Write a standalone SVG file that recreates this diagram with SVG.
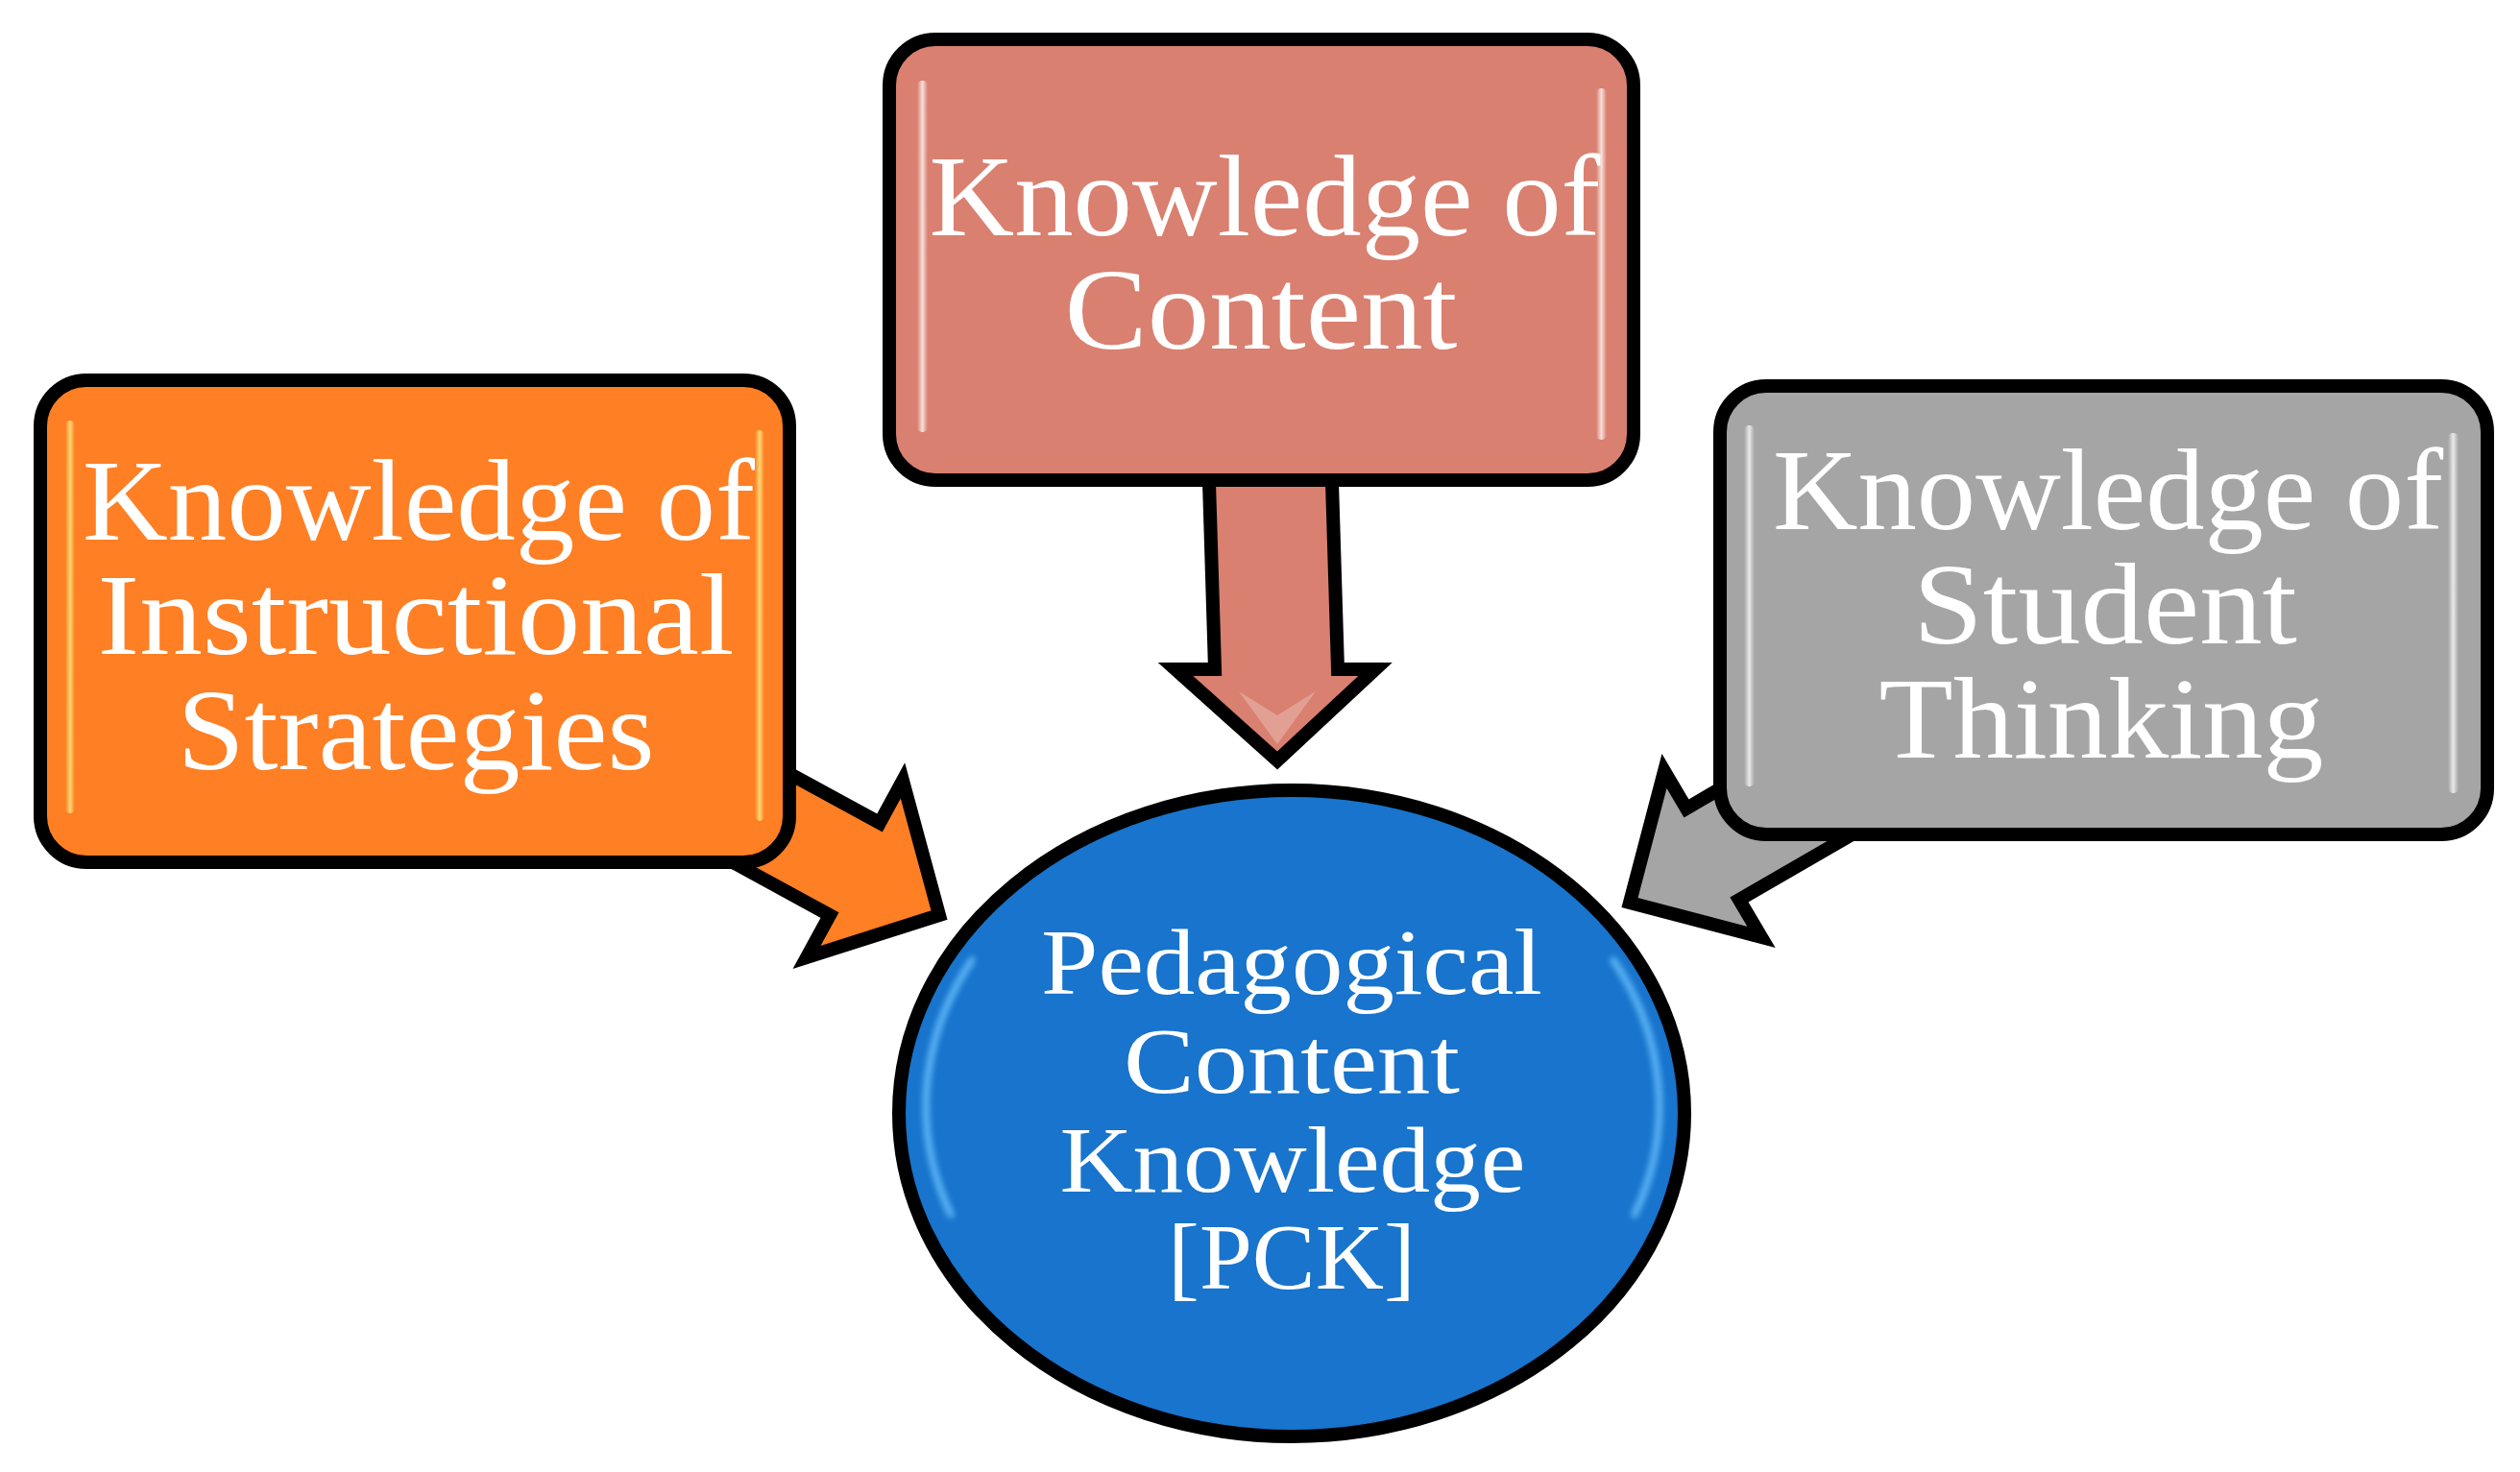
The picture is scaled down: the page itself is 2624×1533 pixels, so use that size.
<svg xmlns="http://www.w3.org/2000/svg" width="2624" height="1533" viewBox="0 0 2624 1533">
<defs>
<style>
.ol{stroke:#000;stroke-width:14;stroke-linejoin:round}
.arr{stroke:#000;stroke-width:14;stroke-linejoin:miter;stroke-miterlimit:10}
.t{font-family:"Liberation Serif","Times New Roman",serif;fill:#fff;text-anchor:middle}
.tb{font-size:121px}
.te{font-size:98px}
</style>
<linearGradient id="strip" x1="0" y1="0" x2="1" y2="0">
<stop offset="0" stop-color="#fff" stop-opacity="0"/>
<stop offset="0.5" stop-color="#fff" stop-opacity="0.75"/>
<stop offset="1" stop-color="#fff" stop-opacity="0"/>
</linearGradient>
<linearGradient id="stripY" x1="0" y1="0" x2="1" y2="0">
<stop offset="0" stop-color="#ffe27a" stop-opacity="0"/>
<stop offset="0.5" stop-color="#ffe27a" stop-opacity="0.9"/>
<stop offset="1" stop-color="#ffe27a" stop-opacity="0"/>
</linearGradient>
<filter id="blur" x="-20%" y="-20%" width="140%" height="140%"><feGaussianBlur stdDeviation="3"/></filter>
</defs>
<rect width="2624" height="1533" fill="#fff"/>

<g id="connectors">
<polygon class="arr" fill="#FE7F24" points="688,857 864,953 840,997 978,953 940,813 916,857 740,761"/>
<polygon class="arr" fill="#D98070" points="1258,470 1265,697 1224,697 1330,792 1432,697 1393,697 1386,470"/>
<polygon class="arr" fill="#A5A5A5" points="2027,812 1811,937 1834,976 1697,940 1733,803 1756,842 1971,716"/>
<polygon fill="#fff" opacity="0.25" points="1290,720 1330,775 1370,720 1330,745"/>
</g>

<g id="node-instructional">
<rect class="ol" x="42" y="396" width="780" height="502" rx="48" fill="#FE7F24"/>
<rect x="68" y="438" width="10" height="409" rx="5" fill="url(#stripY)"/>
<rect x="786" y="448" width="10" height="407" rx="5" fill="url(#stripY)"/>
<text class="t tb" x="436" y="562" textLength="700" lengthAdjust="spacingAndGlyphs">Knowledge of</text>
<text class="t tb" x="433" y="681" textLength="663" lengthAdjust="spacingAndGlyphs">Instructional</text>
<text class="t tb" x="433" y="801" textLength="497" lengthAdjust="spacingAndGlyphs">Strategies</text>
</g>

<g id="node-content">
<rect class="ol" x="926" y="41" width="775" height="459" rx="48" fill="#D98070"/>
<rect x="955" y="84" width="11" height="366" rx="5" fill="url(#strip)"/>
<rect x="1662" y="92" width="11" height="366" rx="5" fill="url(#strip)"/>
<text class="t tb" x="1317" y="245" textLength="699" lengthAdjust="spacingAndGlyphs">Knowledge of</text>
<text class="t tb" x="1313" y="363" textLength="409" lengthAdjust="spacingAndGlyphs">Content</text>
</g>

<g id="node-student">
<rect class="ol" x="1791" y="402" width="799" height="467" rx="48" fill="#A5A5A5"/>
<rect x="1816" y="443" width="11" height="376" rx="5" fill="url(#strip)"/>
<rect x="2549" y="451" width="11" height="375" rx="5" fill="url(#strip)"/>
<text class="t tb" x="2195" y="551" textLength="698" lengthAdjust="spacingAndGlyphs">Knowledge of</text>
<text class="t tb" x="2192" y="670" textLength="400" lengthAdjust="spacingAndGlyphs">Student</text>
<text class="t tb" x="2188" y="789" textLength="463" lengthAdjust="spacingAndGlyphs">Thinking</text>
</g>

<g id="node-pck">
<ellipse class="ol" cx="1345" cy="1159.5" rx="409" ry="336.5" fill="#1874CC"/>
<path d="M1012,1000 A385,315 0 0 0 990,1265" fill="none" stroke="#6CC4FF" stroke-width="7" stroke-linecap="round" opacity="0.85" filter="url(#blur)"/>
<path d="M1680,1000 A385,315 0 0 1 1702,1265" fill="none" stroke="#6CC4FF" stroke-width="7" stroke-linecap="round" opacity="0.85" filter="url(#blur)"/>
<text class="t te" x="1345" y="1035" textLength="522" lengthAdjust="spacingAndGlyphs">Pedagogical</text>
<text class="t te" x="1345" y="1138" textLength="350" lengthAdjust="spacingAndGlyphs">Content</text>
<text class="t te" x="1346" y="1241" textLength="485" lengthAdjust="spacingAndGlyphs">Knowledge</text>
<text class="t te" x="1345" y="1342" textLength="258" lengthAdjust="spacingAndGlyphs">[PCK]</text>
</g>
</svg>
